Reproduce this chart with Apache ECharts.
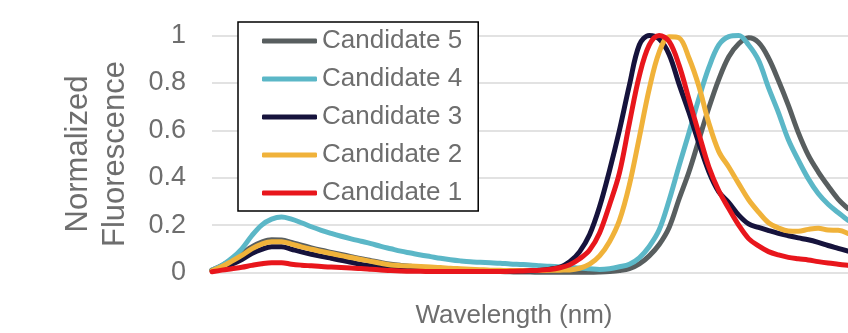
<!DOCTYPE html>
<html>
<head>
<meta charset="utf-8">
<style>
  html, body { margin: 0; padding: 0; background: #fff; }
  #chart { width: 848px; height: 333px; }
</style>
<script src="https://cdn.jsdelivr.net/npm/echarts@6/dist/echarts.min.js"></script>
</head>
<body>
<div id="chart"></div>
<script>
// Emission wavelengths (nm), 5 nm steps
const wavelengths = [
  300, 305, 310, 315, 320, 325, 330, 335, 340, 345,
  350, 355, 360, 365, 370, 375, 380, 385, 390, 395,
  400, 405, 410, 415, 420, 425, 430, 435, 440, 445,
  450, 455, 460, 465, 470, 475, 480, 485, 490, 495,
  500, 505, 510, 515, 520, 525, 530, 535, 540, 545,
  550, 555, 560, 565, 570, 575, 580, 585, 590, 595,
  600, 605, 610, 615, 620
];

const candidate5 = [
  0.010, 0.030, 0.055, 0.080, 0.108, 0.128, 0.138, 0.137, 0.127, 0.115,
  0.104, 0.094, 0.085, 0.076, 0.067, 0.058, 0.050, 0.042, 0.035, 0.030,
  0.026, 0.022, 0.019, 0.016, 0.013, 0.011, 0.009, 0.007, 0.005, 0.004,
  0.003, 0.002, 0.002, 0.001, 0.001, 0.001, 0.001, 0.001, 0.001, 0.002,
  0.004, 0.008, 0.016, 0.036, 0.070, 0.118, 0.190, 0.310, 0.425, 0.560,
  0.695, 0.815, 0.910, 0.965, 0.990, 0.970, 0.905, 0.810, 0.705, 0.590,
  0.495, 0.425, 0.365, 0.310, 0.270
];

const candidate4 = [
  0.010, 0.030, 0.060, 0.100, 0.155, 0.200, 0.225, 0.234, 0.225, 0.210,
  0.193, 0.178, 0.165, 0.153, 0.142, 0.132, 0.122, 0.110, 0.100, 0.090,
  0.082, 0.074, 0.067, 0.060, 0.054, 0.049, 0.045, 0.043, 0.041, 0.039,
  0.036, 0.034, 0.032, 0.029, 0.026, 0.024, 0.021, 0.019, 0.016, 0.013,
  0.016, 0.024, 0.035, 0.062, 0.110, 0.180, 0.305, 0.450, 0.590, 0.735,
  0.865, 0.960, 0.995, 1.000, 0.960, 0.895, 0.780, 0.675, 0.560, 0.474,
  0.396, 0.333, 0.288, 0.253, 0.220
];

const candidate3 = [
  0.008, 0.020, 0.035, 0.055, 0.080, 0.098, 0.109, 0.109, 0.098, 0.087,
  0.077, 0.068, 0.060, 0.052, 0.043, 0.034, 0.028, 0.022, 0.017, 0.012,
  0.010, 0.009, 0.008, 0.007, 0.006, 0.006, 0.005, 0.005, 0.005, 0.005,
  0.005, 0.006, 0.007, 0.009, 0.014, 0.022, 0.045, 0.088, 0.160, 0.277,
  0.430, 0.600, 0.790, 0.960, 1.000, 0.985, 0.920, 0.795, 0.675, 0.545,
  0.425, 0.340, 0.295, 0.242, 0.205, 0.190, 0.177, 0.165, 0.155, 0.146,
  0.138, 0.127, 0.114, 0.102, 0.090
];

const candidate2 = [
  0.008, 0.025, 0.048, 0.072, 0.100, 0.120, 0.130, 0.130, 0.120, 0.108,
  0.098, 0.089, 0.080, 0.071, 0.063, 0.055, 0.047, 0.039, 0.032, 0.029,
  0.027, 0.025, 0.023, 0.021, 0.018, 0.016, 0.014, 0.012, 0.010, 0.009,
  0.008, 0.008, 0.008, 0.008, 0.009, 0.010, 0.011, 0.018, 0.035, 0.070,
  0.130, 0.220, 0.370, 0.570, 0.775, 0.930, 0.995, 0.990, 0.905, 0.785,
  0.630, 0.510, 0.445, 0.375, 0.307, 0.255, 0.210, 0.188, 0.175, 0.174,
  0.182, 0.187, 0.179, 0.178, 0.165
];

const candidate1 = [
  0.003, 0.010, 0.016, 0.022, 0.030, 0.037, 0.041, 0.041, 0.035, 0.031,
  0.028, 0.025, 0.023, 0.021, 0.019, 0.017, 0.014, 0.011, 0.008, 0.006,
  0.005, 0.005, 0.004, 0.004, 0.004, 0.004, 0.004, 0.004, 0.004, 0.004,
  0.005, 0.006, 0.008, 0.010, 0.013, 0.020, 0.033, 0.058, 0.095, 0.167,
  0.285, 0.420, 0.630, 0.830, 0.960, 1.000, 0.975, 0.875, 0.730, 0.585,
  0.445, 0.345, 0.270, 0.200, 0.143, 0.112, 0.088, 0.074, 0.064, 0.058,
  0.053, 0.046, 0.040, 0.035, 0.030
];

const seriesNames = ['Candidate 5', 'Candidate 4', 'Candidate 3', 'Candidate 2', 'Candidate 1'];
const seriesValues = [candidate5, candidate4, candidate3, candidate2, candidate1];
const seriesColors = ['#585e5f', '#5bb7c7', '#16133c', '#f0b23a', '#e8161c'];

const yTicks = [0, 0.2, 0.4, 0.6, 0.8, 1];

const FONT = '"Liberation Sans", Arial, sans-serif';
const TEXT_COLOR = '#6e6e6e';

const chart = echarts.init(document.getElementById('chart'), null, { renderer: 'canvas' });

chart.setOption({
  animation: false,
  backgroundColor: '#ffffff',
  grid: { left: 212, right: -4, top: 35.5, bottom: 60.5, containLabel: false },
  xAxis: {
    type: 'value',
    min: wavelengths[0],
    max: wavelengths[wavelengths.length - 1],
    axisLine: { show: false },
    axisTick: { show: false },
    axisLabel: { show: false },
    splitLine: { show: false }
  },
  yAxis: {
    type: 'value',
    min: yTicks[0],
    max: yTicks[yTicks.length - 1],
    interval: 0.2,
    axisLine: { show: false },
    axisTick: { show: false },
    axisLabel: {
      margin: 26,
      fontSize: 27,
      fontFamily: FONT,
      color: TEXT_COLOR,
      formatter: v => String(Math.round(v * 10) / 10)
    },
    splitLine: { lineStyle: { color: '#d9d9d9', width: 1.5 } }
  },
  legend: {
    data: seriesNames,
    orient: 'vertical',
    left: 238,
    top: 22,
    padding: [6, 16, 5, 24],
    itemGap: 12,
    itemWidth: 55,
    itemHeight: 5,
    icon: 'roundRect',
    borderColor: '#000000',
    borderWidth: 1.5,
    backgroundColor: '#ffffff',
    textStyle: { fontSize: 26, fontFamily: FONT, color: TEXT_COLOR },
    selectedMode: false
  },
  graphic: [
    {
      type: 'text',
      x: 97,
      y: 154,
      rotation: Math.PI / 2,
      style: {
        text: 'Normalized\nFluorescence',
        font: '31px ' + FONT,
        fill: TEXT_COLOR,
        align: 'center',
        verticalAlign: 'middle',
        lineHeight: 37
      }
    },
    {
      type: 'text',
      x: 514,
      y: 316,
      style: {
        text: 'Wavelength (nm)',
        font: '26px ' + FONT,
        fill: TEXT_COLOR,
        align: 'center',
        verticalAlign: 'middle'
      }
    }
  ],
  series: seriesNames.map((name, i) => ({
    name: name,
    type: 'line',
    data: wavelengths.map((w, j) => [w, seriesValues[i][j]]),
    symbol: 'none',
    smooth: 0.35,
    color: seriesColors[i],
    lineStyle: { width: 5, color: seriesColors[i], cap: 'round', join: 'round' },
    emphasis: { disabled: true }
  }))
});
</script>
</body>
</html>
